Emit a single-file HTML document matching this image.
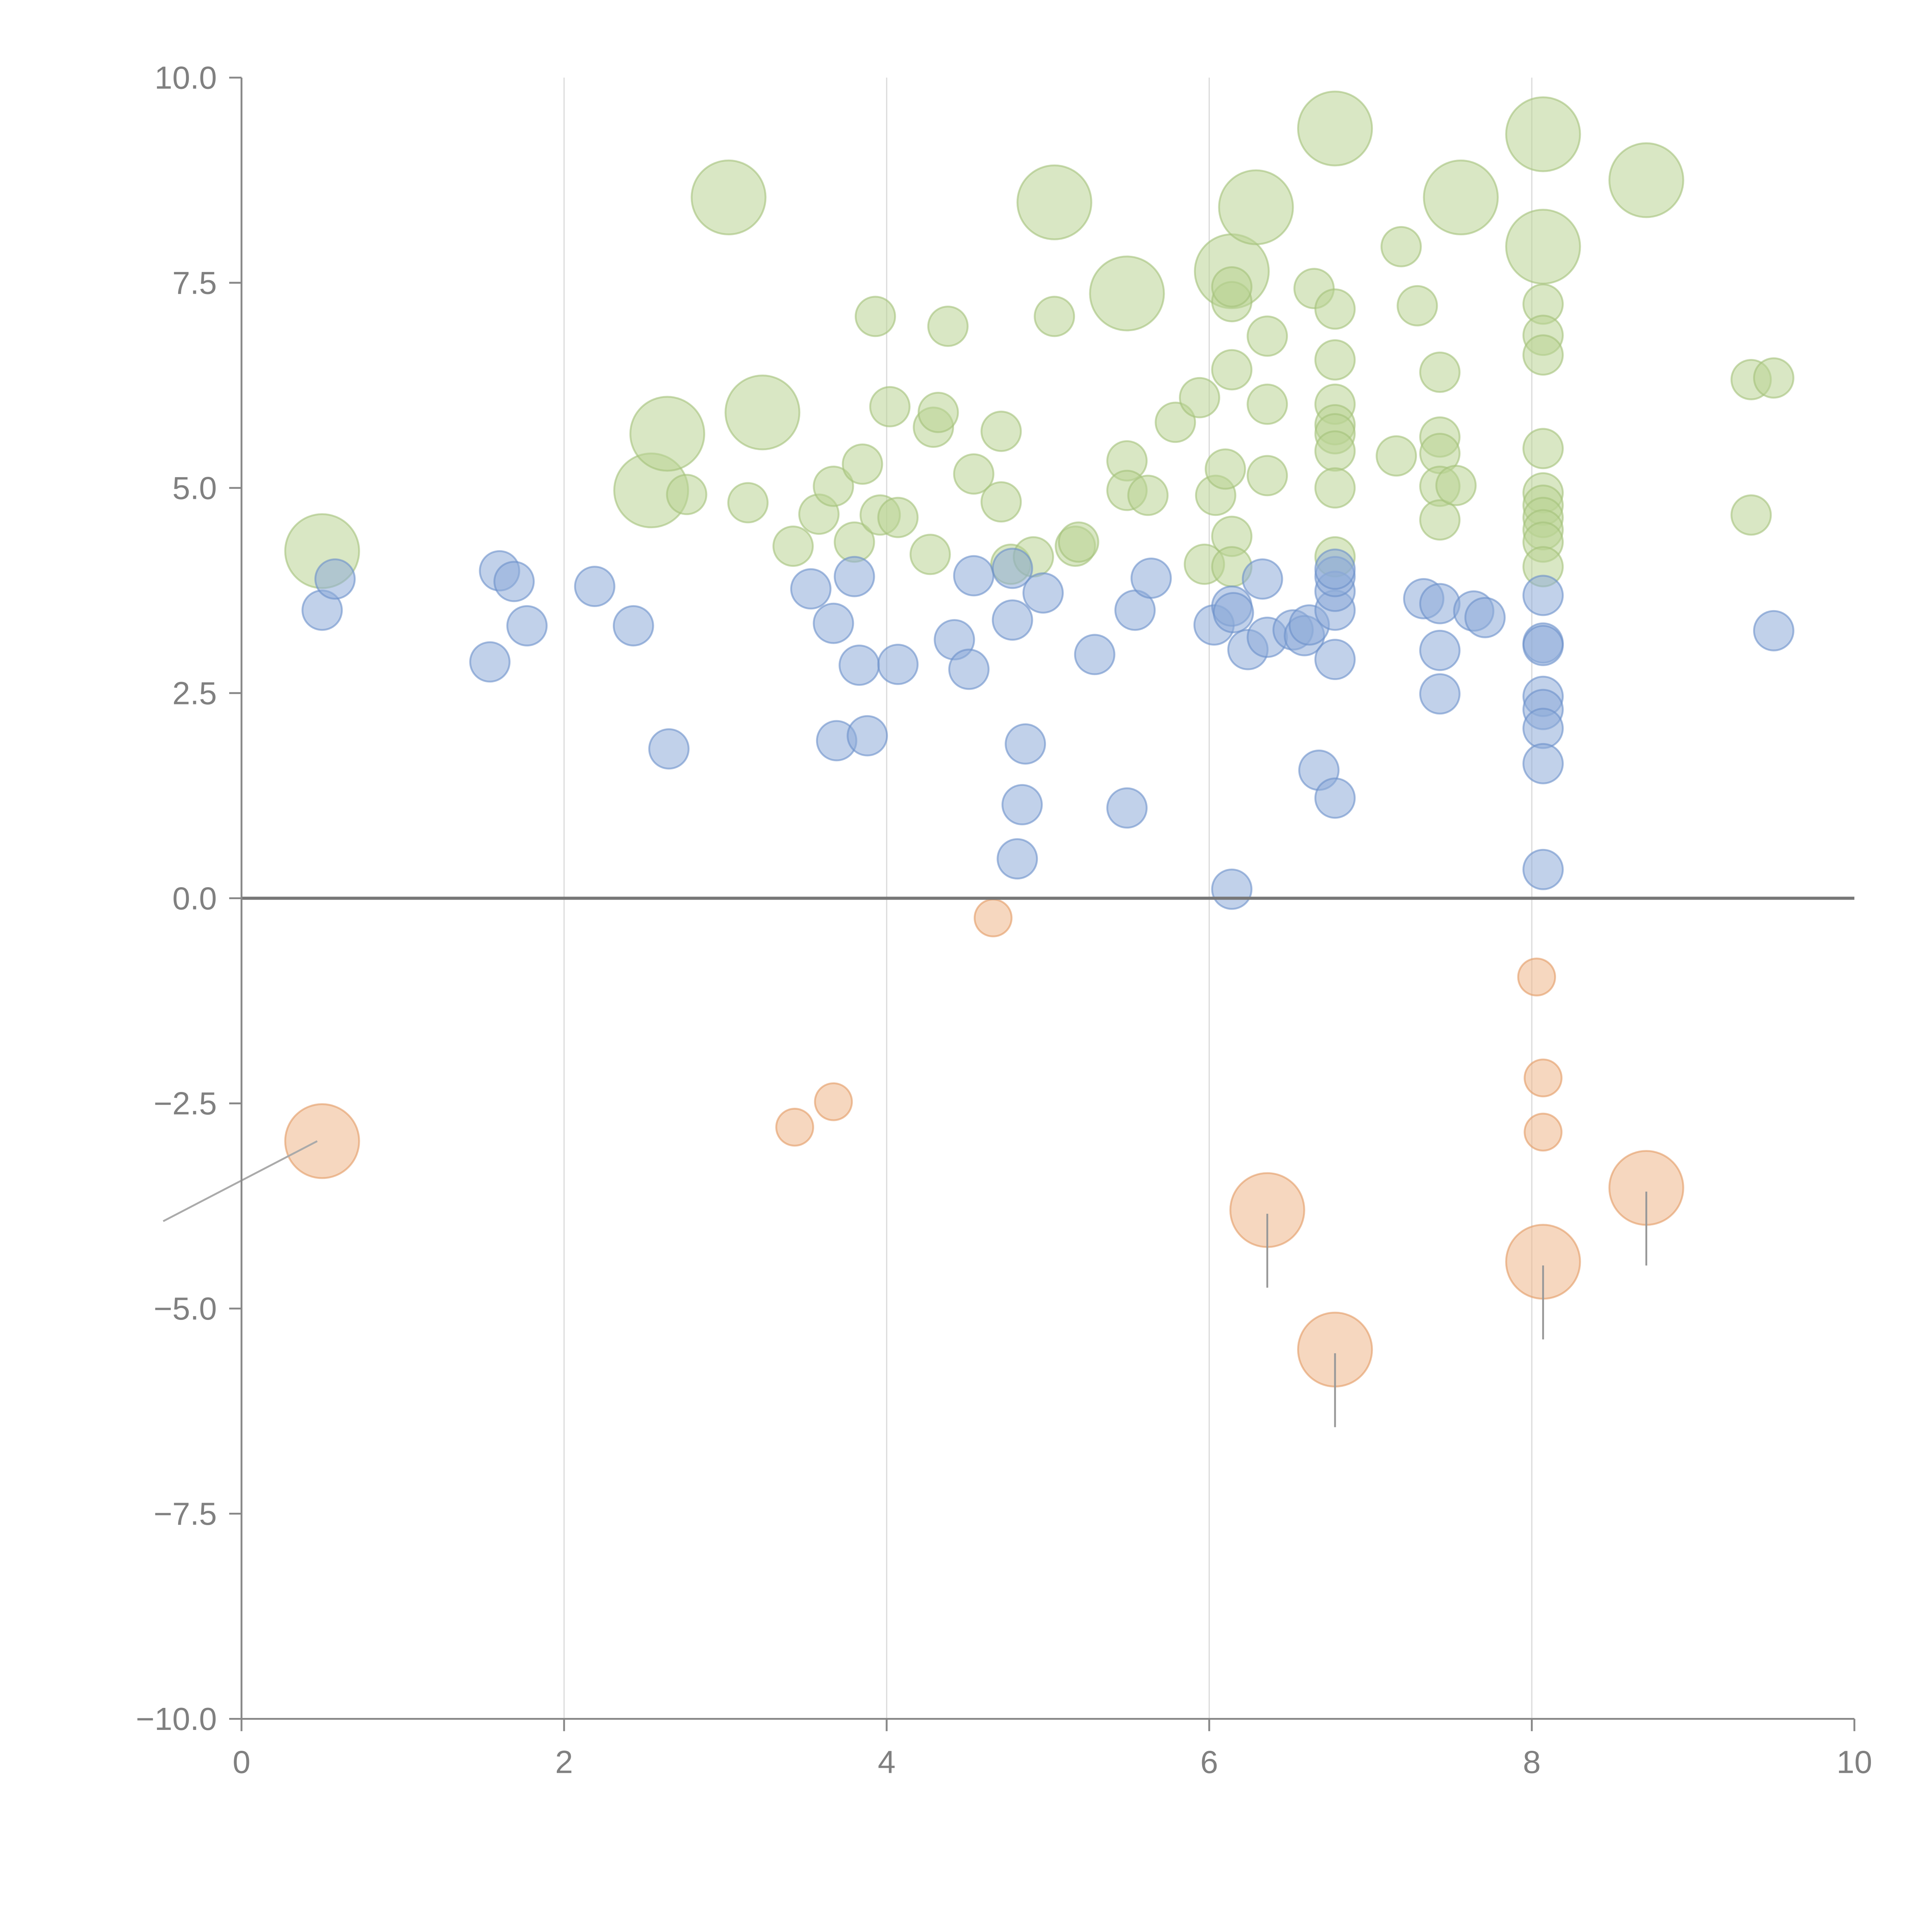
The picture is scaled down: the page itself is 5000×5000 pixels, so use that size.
<!DOCTYPE html>
<html><head><meta charset="utf-8">
<style>
html,body{margin:0;padding:0;background:#fff;}
svg{display:block;}
text{font-family:"Liberation Sans",sans-serif;fill:#808080;}
</style></head>
<body>
<svg id="chart" width="5000" height="5000" viewBox="0 0 1568 1568" xmlns="http://www.w3.org/2000/svg">
<g id="grid"></g>
<g id="marks"></g>
<g id="axes"></g>
</svg>
<script>
const xTicks=[0,2,4,6,8,10];
const yTicks=[-10,-7.5,-5,-2.5,0,2.5,5,7.5,10];
const yTickLabels=["\u221210.0","\u22127.5","\u22125.0","\u22122.5","0.0","2.5","5.0","7.5","10.0"];
const blueX=[0.50,0.58,1.54,1.60,1.69,1.77,2.19,2.43,2.65,3.53,3.67,3.69,3.80,3.83,3.88,4.07,4.42,4.51,4.54,4.78,4.78,4.81,4.84,4.86,4.97,5.29,5.49,5.54,5.64,6.03,6.14,6.14,6.15,6.24,6.33,6.36,6.52,6.59,6.62,6.68,6.78,6.78,6.78,6.78,6.78,6.78,7.33,7.43,7.43,7.43,7.64,7.71,8.07,8.07,8.07,8.07,8.07,8.07,8.07,8.07,9.50];
const blueY=[3.51,3.89,2.88,3.99,3.86,3.32,3.80,3.32,1.82,3.77,3.35,1.92,3.92,2.84,1.98,2.85,3.15,2.79,3.93,4.02,3.39,0.48,1.14,1.88,3.72,2.97,1.10,3.51,3.90,3.33,3.56,0.11,3.48,3.03,3.89,3.18,3.27,3.20,3.33,1.56,1.22,2.91,3.51,3.74,3.92,4.01,3.65,3.59,3.02,2.49,3.50,3.42,3.69,3.11,3.08,2.46,2.30,2.07,1.64,0.35,3.26];
const orangeX=[4.66,3.43,3.67,8.03,8.07,8.07,0.50,6.36,6.78,8.07,8.71];
const orangeY=[-0.24,-2.79,-2.48,-0.96,-2.19,-2.85,-2.96,-3.80,-5.50,-4.43,-3.53];
const orangeSize=[1,1,1,1,1,1,2,2,2,2,2];
const greenBigX=[0.50,2.54,2.64,3.02,3.23,5.04,5.49,6.14,6.29,6.78,7.56,8.07,8.07,8.71];
const greenBigY=[4.23,4.97,5.66,8.54,5.92,8.48,7.37,7.64,8.42,9.38,8.54,9.31,7.94,8.75];
const greenX=[2.76,3.14,3.42,3.58,3.67,3.80,3.85,3.93,3.96,4.02,4.07,4.27,4.29,4.32,4.38,4.54,4.71,4.71,4.77,4.91,5.04,5.17,5.19,5.49,5.49,5.62,5.79,5.94,5.97,6.04,6.10,6.14,6.14,6.14,6.14,6.14,6.36,6.36,6.36,6.65,6.78,6.78,6.78,6.78,6.78,6.78,6.78,6.78,7.16,7.19,7.29,7.43,7.43,7.43,7.43,7.43,7.53,8.07,8.07,8.07,8.07,8.07,8.07,8.07,8.07,8.07,8.07,9.36,9.36,9.50];
const greenY=[4.92,4.82,4.29,4.68,5.02,4.34,5.29,7.09,4.67,5.99,4.64,4.19,5.74,5.92,6.97,5.17,5.69,4.83,4.07,4.16,7.09,4.29,4.34,5.33,4.97,4.91,5.80,6.10,4.07,4.91,5.23,7.27,6.44,4.41,4.04,7.45,6.85,6.02,5.15,7.43,7.18,6.56,6.02,5.77,5.66,5.45,5.00,4.16,5.39,7.94,7.22,6.41,5.62,5.42,5.02,4.61,5.03,7.24,6.86,6.62,5.48,4.94,4.79,4.64,4.49,4.34,4.04,6.32,4.67,6.34];

const X0=196,X1=1505,Y0=1395,Y1=63;
const xs=v=>X0+(v-0)/(10-0)*(X1-X0);
const ys=v=>Y0-(v+10)/20*(Y0-Y1);
const NS="http://www.w3.org/2000/svg";
function mk(tag,attrs,parent){const e=document.createElementNS(NS,tag);for(const k in attrs)e.setAttribute(k,attrs[k]);parent.appendChild(e);return e;}
const grid=document.getElementById('grid'),marks=document.getElementById('marks'),axes=document.getElementById('axes');

xTicks.forEach(t=>{if(t>0&&t<10){const l=mk('line',{x1:xs(t),x2:xs(t),y1:Y1,y2:Y0,stroke:'#dcdcdc','stroke-width':1},grid);

}});

function bubble(x,y,r,fill,stroke,name){
 const c=mk('circle',{cx:xs(x),cy:ys(y),r:r,fill:fill,'fill-opacity':0.55,stroke:stroke,'stroke-opacity':0.6,'stroke-width':1.5},marks);
 
 
}
greenBigX.forEach((x,i)=>bubble(x,greenBigY[i],30,'#b9d394','#a3c27a','green-bubble-large'));
greenX.forEach((x,i)=>bubble(x,greenY[i],16,'#b9d394','#a3c27a','green-bubble'));
blueX.forEach((x,i)=>bubble(x,blueY[i],16,'#8eabd8','#6a8fc9','blue-bubble'));
orangeX.forEach((x,i)=>{
 const r=orangeSize[i]>1?30:15;
 bubble(x,orangeY[i],r,'#eeb68a','#e39a62','orange-bubble');
 if(orangeSize[i]>1){
  let a;
  if(x<1){a=mk('line',{x1:xs(x)-4,y1:ys(orangeY[i]),x2:xs(x)-129,y2:ys(orangeY[i])+65,stroke:'#aaa','stroke-width':1.5},marks);}
  else{a=mk('line',{x1:xs(x),y1:ys(orangeY[i])+3,x2:xs(x),y2:ys(orangeY[i])+63,stroke:'#999','stroke-width':1.5},marks);}
  
  
 }
});

const zl=mk('line',{x1:X0,x2:X1,y1:ys(0),y2:ys(0),stroke:'#777','stroke-width':2.5},axes);


const xa=mk('line',{x1:X0,x2:X1,y1:Y0,y2:Y0,stroke:'#888','stroke-width':1.5},axes);


const ya=mk('line',{x1:X0,x2:X0,y1:Y1,y2:Y0,stroke:'#888','stroke-width':1.5},axes);


xTicks.forEach(t=>{
 const tk=mk('line',{x1:xs(t),x2:xs(t),y1:Y0,y2:Y0+10,stroke:'#888','stroke-width':1.5},axes);
 
 
 const tx=mk('text',{x:xs(t),y:Y0+44,'text-anchor':'middle','font-size':26},axes);
 tx.textContent=String(t);
 
 
});
yTicks.forEach((t,i)=>{
 const tk=mk('line',{x1:X0-10,x2:X0,y1:ys(t),y2:ys(t),stroke:'#888','stroke-width':1.5},axes);
 
 
 const tx=mk('text',{x:X0-20,y:ys(t)+9,'text-anchor':'end','font-size':26},axes);
 tx.textContent=yTickLabels[i];
 
 
});
</script>
</body></html>
